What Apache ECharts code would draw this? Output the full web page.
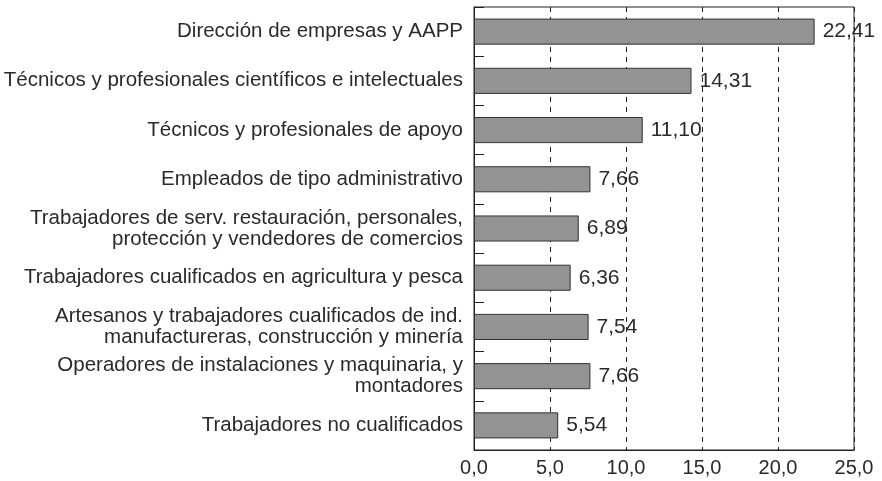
<!DOCTYPE html>
<html>
<head>
<meta charset="utf-8">
<script src="https://cdn.jsdelivr.net/npm/echarts@6/dist/echarts.min.js"></script>
<style>
  html, body { margin: 0; padding: 0; background: #fff; }
  #main { width: 882px; height: 481px; }
</style>
</head>
<body>
<div id="main"></div>
<script>
// categorías (de arriba abajo)
var categories = [
  'Dirección de empresas y AAPP',
  'Técnicos y profesionales científicos e intelectuales',
  'Técnicos y profesionales de apoyo',
  'Empleados de tipo administrativo',
  'Trabajadores de serv. restauración, personales,\nprotección y vendedores de comercios',
  'Trabajadores cualificados en agricultura y pesca',
  'Artesanos y trabajadores cualificados de ind.\nmanufactureras, construcción y minería',
  'Operadores de instalaciones y maquinaria, y\nmontadores',
  'Trabajadores no cualificados'
];
var values = [22.41, 14.31, 11.10, 7.66, 6.89, 6.36, 7.54, 7.66, 5.54];
var xTicks = [0, 5, 10, 15, 20, 25];

function coma(v, d) {
  return v.toFixed(d).replace('.', ',');
}

var myChart = echarts.init(document.getElementById('main'));

var option = {
  animation: false,
  textStyle: { fontFamily: 'Liberation Sans, Arial, sans-serif' },
  grid: {
    left: 474, right: 28, top: 7, bottom: 31,
    show: true, borderColor: '#222', borderWidth: 1
  },
  xAxis: {
    type: 'value',
    min: xTicks[0],
    max: xTicks[xTicks.length - 1],
    interval: 5,
    axisLine: { show: true, lineStyle: { color: '#222' } },
    axisTick: { show: false },
    axisLabel: {
      color: '#2a2a2a', fontSize: 20, margin: 8,
      formatter: function (v) { return coma(v, 1); }
    },
    splitLine: { show: true, lineStyle: { color: '#222', type: [5, 5], width: 1 } }
  },
  yAxis: {
    type: 'category',
    inverse: true,
    data: categories,
    axisLine: { show: true, lineStyle: { color: '#222' } },
    axisTick: { show: true, inside: true, length: 10, lineStyle: { color: '#222' } },
    axisLabel: { color: '#2a2a2a', fontSize: 20.5, lineHeight: 21, margin: 11, align: 'right' }
  },
  series: [{
    type: 'bar',
    data: values,
    barCategoryGap: '47%',
    itemStyle: { color: '#939393', borderColor: '#333', borderWidth: 1 },
    label: {
      show: true, position: 'right', distance: 8,
      color: '#2a2a2a', fontSize: 21,
      formatter: function (p) { return coma(p.value, 2); }
    }
  }]
};
myChart.setOption(option);
</script>
</body>
</html>
